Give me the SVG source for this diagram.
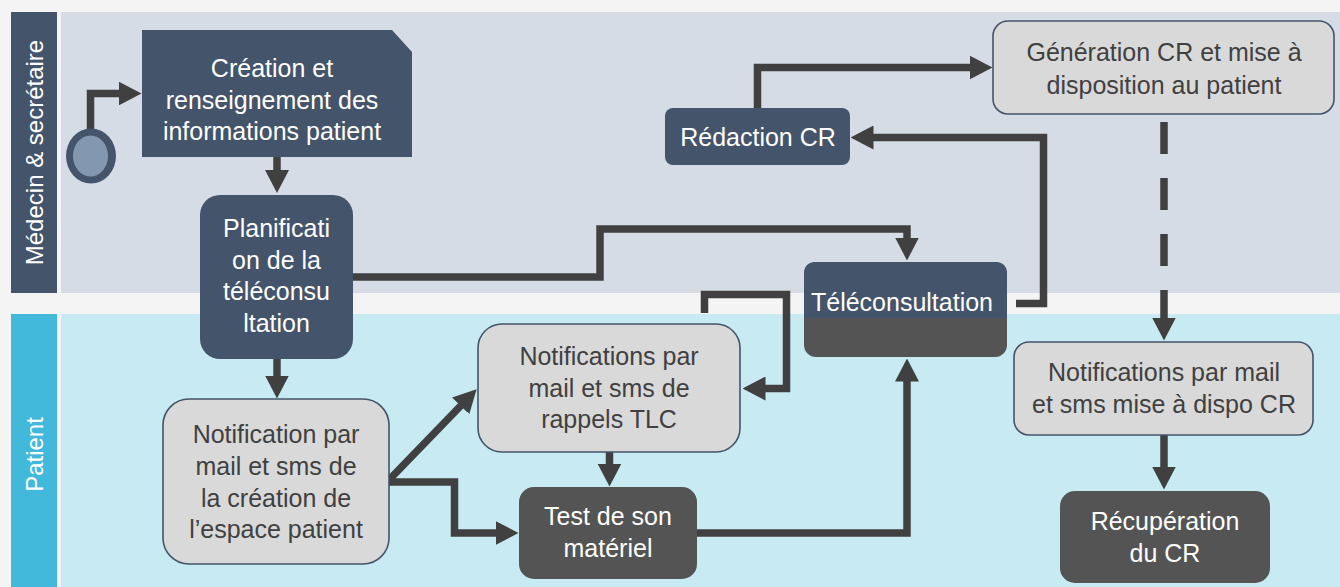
<svg xmlns="http://www.w3.org/2000/svg" width="1340" height="587" viewBox="0 0 1340 587">
<defs>
<marker id="ah" viewBox="0 -12 23 24" refX="0.5" refY="0" markerWidth="23" markerHeight="24" markerUnits="userSpaceOnUse" orient="auto">
<path d="M0,-12 L23,0 L0,12 Z" fill="#404040"/>
</marker>
<style>
text{font-family:"Liberation Sans",Arial,sans-serif;font-size:25px;text-anchor:middle}
.w{fill:#ffffff}
.d{fill:#404040}
.lane{font-size:24px;fill:#ffffff}
.slate{fill:#44546A}
.dg{fill:#545454}
.lg{fill:#D9D9D9;stroke:#44546A;stroke-width:1.6}
.c{fill:none;stroke:#404040;stroke-width:7.5;stroke-linejoin:miter;marker-end:url(#ah)}
</style>
</defs>
<rect x="0" y="0" width="1340" height="587" fill="#F4F4F4"/>
<g id="lane-medecin">
<rect x="11" y="12" width="46" height="281" fill="#44546A"/>
<rect x="61" y="12" width="1279" height="281" fill="#D6DCE5"/>
<text class="lane" transform="translate(43,152.5) rotate(-90)">Médecin &amp; secrétaire</text>
</g>
<g id="lane-patient">
<rect x="11" y="314" width="46" height="273" fill="#42B8DA"/>
<rect x="61" y="314" width="1279" height="273" fill="#C8EBF3"/>
<text class="lane" transform="translate(43,454.5) rotate(-90)">Patient</text>
</g>
<g id="connectors">
<path class="c" d="M90.5,129 V93.5 H119"/>
<path class="c" d="M277,157 V170.5"/>
<path class="c" d="M277,359 V376"/>
<path class="c" d="M353,277 H600 V229 H907 V238"/>
<path class="c" d="M387,482 L461,405.5"/>
<path class="c" d="M387,482 H454.5 V533 H496"/>
<path class="c" d="M609.5,452 V464"/>
<path class="c" d="M704.5,313 V294.5 H786.5 V388.5 H765"/>
<path class="c" d="M697,533 H907 V381"/>
<path class="c" d="M1016,303.5 H1043.5 V137.5 H873"/>
<path class="c" d="M757.5,108 V67.5 H970"/>
<path class="c" d="M1164,122 V318" stroke-dasharray="32 24"/>
<path class="c" d="M1164,435 V467"/>
</g>
<g id="start">
<ellipse cx="91" cy="156" rx="25" ry="27.5" fill="#44546A"/>
<ellipse cx="90.5" cy="156" rx="17.5" ry="20.5" fill="#8497B0"/>
</g>
<g id="creation">
<polygon class="slate" points="142,30 392,30 412,52 412,157 142,157"/>
<text class="w" x="272" y="77">Création et</text>
<text class="w" x="272" y="108.5">renseignement des</text>
<text class="w" x="272" y="140">informations patient</text>
</g>
<g id="planification">
<rect class="slate" x="200" y="195" width="153" height="164" rx="20"/>
<text class="w" x="276.5" y="237">Planificati</text>
<text class="w" x="276.5" y="268.5">on de la</text>
<text class="w" x="276.5" y="300">téléconsu</text>
<text class="w" x="276.5" y="332">ltation</text>
</g>
<g id="notification-creation">
<rect class="lg" x="163" y="399" width="226" height="165" rx="26"/>
<text class="d" x="276" y="443">Notification par</text>
<text class="d" x="276" y="475">mail et sms de</text>
<text class="d" x="276" y="507">la création de</text>
<text class="d" x="276" y="538">l’espace patient</text>
</g>
<g id="notifications-rappels">
<rect class="lg" x="478" y="324" width="262" height="128" rx="24"/>
<text class="d" x="609" y="365">Notifications par</text>
<text class="d" x="609" y="397">mail et sms de</text>
<text class="d" x="609" y="428">rappels TLC</text>
</g>
<g id="test-son">
<rect class="dg" x="519" y="487" width="178" height="92" rx="15"/>
<text class="w" x="608" y="525">Test de son</text>
<text class="w" x="608" y="557">matériel</text>
</g>
<g id="teleconsultation">
<rect class="dg" x="804" y="262" width="203" height="95" rx="12"/>
<path class="slate" d="M804,318 V274 Q804,262 816,262 H995 Q1007,262 1007,274 V318 Z"/>
<text class="w" x="902" y="311">Téléconsultation</text>
</g>
<g id="redaction">
<rect class="slate" x="665" y="108" width="185" height="57" rx="8"/>
<text class="w" x="758" y="146">Rédaction CR</text>
</g>
<g id="generation">
<rect class="lg" x="993" y="21" width="341" height="93" rx="15"/>
<text class="d" x="1164" y="61">Génération CR et mise à</text>
<text class="d" x="1164" y="94">disposition au patient</text>
</g>
<g id="notifications-cr">
<rect class="lg" x="1014" y="342" width="299" height="93" rx="15"/>
<text class="d" x="1164" y="381">Notifications par mail</text>
<text class="d" x="1164" y="413">et sms mise à dispo CR</text>
</g>
<g id="recuperation">
<rect class="dg" x="1060" y="491" width="210" height="92" rx="15"/>
<text class="w" x="1165" y="530">Récupération</text>
<text class="w" x="1165" y="562">du CR</text>
</g>
</svg>
